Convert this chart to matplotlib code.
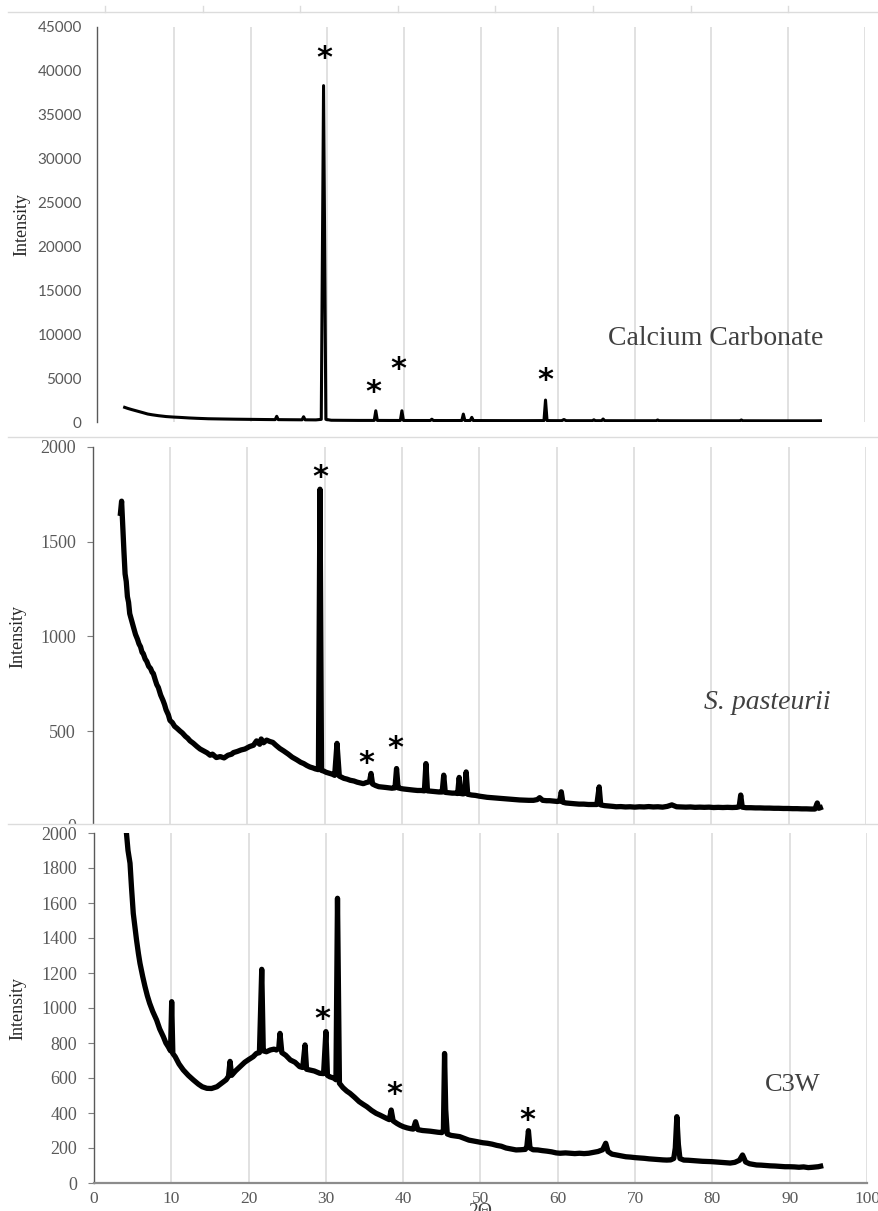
"""
XRD patterns: calcium carbonate, S. pasteurii and C3W, three stacked panels
"""

import matplotlib
matplotlib.use('Agg')
import matplotlib.pyplot as plt
from matplotlib.lines import Line2D
from matplotlib.patches import Rectangle

# Data
# Calcium carbonate
cc_theta = [3.6, 4.0, 4.5, 5.0, 5.5, 6.0, 6.6, 7.2, 8.0, 9.0, 10.0, 10.7, 12.0, 13.0, 14.5,
            16.5, 18.0, 20.0, 22.0, 23.2, 23.4, 23.6, 25.0, 26.7, 26.9, 27.1, 28.5, 29.2,
            29.5, 29.8, 30.5, 32.0, 34.0, 36.1, 36.3, 36.5, 38.0, 39.5, 39.7, 39.9, 41.0,
            43.4, 43.6, 43.8, 45.5, 47.5, 47.7, 47.9, 48.6, 48.8, 49.0, 51.0, 54.0, 56.0,
            58.2, 58.4, 58.6, 60.5, 60.8, 61.1, 63.0, 64.5, 64.7, 64.9, 65.7, 65.9, 66.1,
            69.0, 72.8, 73.0, 73.2, 77.0, 81.0, 83.7, 83.9, 84.1, 88.0, 91.0, 93.5, 94.2]
cc_int = [1670, 1550, 1420, 1300, 1180, 1060, 909, 820, 720, 620, 560, 530, 460, 420, 370,
          340, 320, 300, 280, 270, 650, 270, 260, 250, 600, 250, 240, 300,
          38320, 300, 200, 190, 180, 180, 1280, 180, 175, 175, 1280, 175, 170,
          170, 320, 170, 165, 170, 900, 170, 170, 530, 165, 160, 155, 155,
          160, 2500, 160, 150, 280, 150, 150, 150, 250, 150, 150, 340, 150,
          145, 145, 230, 145, 140, 140, 140, 230, 140, 135, 135, 135, 140]

# S. pasteurii
sp_theta = [3.6, 3.75, 3.9, 4.05, 4.2, 4.35, 4.5, 4.65, 4.8, 5.0, 5.3, 5.55, 5.8, 6.0, 6.2,
            6.4, 6.55, 6.8, 7.0, 7.25, 7.5, 7.7, 7.85, 8.1, 8.3, 8.5, 8.8, 9.1, 9.3, 9.5,
            9.8, 10.0, 10.3, 10.6, 10.9, 11.3, 11.6, 12.0, 12.3, 12.6, 13.0, 13.5, 13.9,
            14.3, 14.8, 15.2, 15.5, 16.0, 16.5, 17.0, 17.5, 18.0, 18.2, 18.7, 19.2, 19.7,
            20.3, 20.8, 21.2, 21.6, 21.8, 22.1, 22.5, 22.9, 23.3, 23.7, 24.2, 24.7, 25.3,
            25.8, 26.4, 26.9, 27.3, 27.7, 28.1, 28.5, 28.8, 29.2, 29.4, 29.6, 29.9, 30.2,
            30.7, 31.0, 31.3, 31.6, 31.9, 32.2, 32.5, 32.9, 33.3, 33.8, 34.2, 34.6, 35.0,
            35.4, 35.8, 36.0, 36.2, 36.6, 37.0, 37.5, 37.9, 38.3, 38.7, 39.1, 39.3, 39.5,
            39.9, 40.2, 40.6, 41.0, 41.5, 42.0, 42.5, 42.9, 43.1, 43.3, 43.8, 44.4, 44.8,
            45.2, 45.4, 45.6, 46.0, 46.5, 46.9, 47.2, 47.4, 47.6, 47.9, 48.1, 48.3, 48.5,
            49.0, 49.5, 50.0, 50.5, 51.0, 51.6, 52.2, 52.8, 53.4, 54.0, 54.6, 55.2, 55.8,
            56.4, 57.0, 57.5, 57.8, 58.2, 58.7, 59.1, 59.6, 60.1, 60.4, 60.6, 60.8, 61.2,
            61.7, 62.3, 62.9, 63.5, 64.1, 64.7, 65.2, 65.5, 65.7, 66.2, 66.8, 67.3, 67.7,
            68.3, 68.9, 69.5, 70.1, 70.7, 71.3, 71.9, 72.5, 73.1, 73.7, 74.3, 74.9, 75.5,
            76.1, 76.7, 77.3, 77.9, 78.5, 79.1, 79.7, 80.3, 80.9, 81.5, 82.1, 82.7, 83.3,
            83.6, 83.8, 84.0, 84.5, 85.1, 85.7, 86.3, 86.9, 87.5, 88.1, 88.7, 89.3, 89.9,
            90.5, 91.1, 91.7, 92.3, 92.9, 93.4, 93.7, 93.9, 94.1]
sp_int = [1650, 1714, 1580, 1450, 1330, 1290, 1210, 1180, 1120, 1090, 1046, 1010, 985, 960, 945,
          915, 909, 880, 868, 842, 830, 810, 804, 770, 745, 730, 690, 662, 640, 612,
          585, 556, 545, 525, 515, 500, 490, 472, 462, 448, 436, 418, 405,
          396, 385, 372, 378, 360, 365, 358, 372, 378, 386, 392, 400, 405,
          418, 425, 448, 430, 458, 438, 452, 445, 440, 425, 408, 395, 378,
          362, 348, 335, 328, 318, 310, 305, 300, 296, 1777, 292, 288, 282,
          276, 272, 266, 435, 262, 256, 250, 246, 240, 236, 230, 226, 222,
          228, 232, 276, 220, 212, 206, 204, 202, 200, 198, 200, 302, 200,
          196, 194, 192, 190, 188, 186, 186, 184, 328, 184, 182, 180, 178,
          178, 267, 176, 174, 172, 172, 170, 255, 170, 168, 170, 284, 166,
          162, 160, 156, 153, 150, 148, 146, 144, 142, 140, 138, 136, 135,
          134, 134, 138, 148, 134, 132, 132, 130, 128, 130, 179, 124, 120,
          118, 116, 114, 114, 112, 112, 112, 205, 110, 106, 104, 102, 100,
          101, 99, 100, 98, 100, 99, 101, 99, 100, 98, 102, 110, 100,
          99, 98, 99, 97, 98, 97, 98, 96, 97, 96, 97, 96, 97,
          100, 162, 98, 95, 95, 94, 94, 93, 93, 92, 92, 91, 91,
          90, 90, 89, 89, 88, 88, 120, 92, 95]

# C3W
c3w_theta = [4.0, 4.2, 4.4, 4.66, 4.85, 5.08, 5.3, 5.5, 5.75, 5.95, 6.3, 6.6, 6.9, 7.2, 7.6,
             8.1, 8.5, 8.97, 9.3, 9.6, 9.9, 10.05, 10.2, 10.5, 11.0, 11.55, 12.2, 12.85,
             13.5, 14.0, 14.6, 15.2, 15.9, 16.5, 17.1, 17.4, 17.6, 17.8, 18.3, 18.9, 19.5,
             20.0, 20.6, 21.0, 21.4, 21.7, 21.9, 22.3, 22.8, 23.3, 23.6, 23.9, 24.06, 24.3,
             24.8, 25.4, 26.0, 26.6, 27.0, 27.3, 27.5, 27.9, 28.5, 29.2, 29.7, 30.0, 30.2,
             30.5, 31.0, 31.3, 31.5, 31.75, 32.2, 32.7, 33.1, 33.7, 34.3, 34.8, 35.3, 35.9,
             36.5, 37.0, 37.4, 37.9, 38.2, 38.45, 38.7, 39.2, 39.6, 40.0, 40.5, 41.0, 41.3,
             41.6, 41.9, 42.5, 43.0, 43.5, 44.0, 44.5, 45.0, 45.2, 45.35, 45.5, 45.7, 46.2,
             46.8, 47.3, 47.9, 48.5, 49.1, 49.7, 50.3, 50.9, 51.5, 52.1, 52.7, 53.3, 53.9,
             54.6, 55.2, 55.8, 56.0, 56.2, 56.4, 56.8, 57.4, 58.0, 58.6, 59.2, 59.8, 60.3,
             61.0, 61.6, 62.2, 62.8, 63.4, 64.0, 64.6, 65.2, 65.8, 66.2, 66.5, 67.0, 67.6,
             68.2, 68.8, 69.4, 70.0, 70.6, 71.2, 71.8, 72.4, 73.0, 73.6, 74.1, 74.6, 75.0,
             75.2, 75.4, 75.6, 75.8, 76.3, 76.9, 77.5, 78.1, 78.7, 79.3, 79.9, 80.5, 81.1,
             81.7, 82.3, 82.9, 83.5, 83.9, 84.3, 84.8, 85.3, 85.7, 86.3, 86.9, 87.5, 88.1,
             88.7, 89.4, 90.0, 90.6, 91.2, 91.8, 92.4, 93.0, 93.4, 93.7, 94.0]
c3w_int = [2150, 1998, 1900, 1827, 1690, 1541, 1460, 1389, 1310, 1255, 1180, 1122, 1070, 1027, 980,
           931, 880, 836, 800, 779, 755, 1036, 740, 722, 680, 646, 615, 589,
           565, 550, 541, 540, 550, 570, 590, 610, 695, 615, 640, 665, 690,
           705, 722, 740, 745, 1221, 755, 750, 760, 765, 760, 770, 855, 745,
           730, 703, 690, 665, 660, 789, 650, 646, 640, 627, 625, 865, 615,
           607, 600, 590, 1627, 570, 545, 525, 513, 490, 465, 450, 436, 415,
           398, 388, 379, 368, 362, 417, 355, 340, 330, 322, 315, 310, 308,
           350, 305, 300, 298, 296, 293, 290, 288, 300, 740, 420, 280, 272,
           268, 265, 255, 245, 240, 235, 230, 227, 222, 215, 210, 200, 195,
           189, 190, 192, 210, 299, 200, 190, 189, 185, 182, 178, 172, 170,
           172, 170, 168, 170, 168, 170, 175, 180, 190, 227, 180, 165, 160,
           155, 150, 148, 145, 143, 141, 138, 136, 134, 132, 131, 132, 140,
           200, 379, 220, 140, 131, 130, 128, 126, 124, 123, 122, 120, 118,
           116, 114, 118, 130, 160, 120, 110, 106, 103, 102, 100, 98, 97,
           95, 93, 93, 92, 90, 92, 88, 90, 92, 93, 96]

# asterisk marks (2theta, intensity)
cc_star_x = [29.6, 36.0, 39.2, 58.4]
cc_star_y = [42370, 4317, 6964, 5646]
sp_star_x = [29.4, 35.4, 39.1]
sp_star_y = [1881, 372, 451]
c3w_star_x = [29.6, 38.9, 56.0]
c3w_star_y = [979, 550, 402]

x_ticks = list(range(0, 101, 10))
cc_yticks = list(range(0, 45001, 5000))
sp_yticks = [0, 500, 1000, 1500, 2000]
c3w_yticks = list(range(0, 2001, 200))

W, H = 879, 1211
serif = 'Liberation Serif'
tick_col = '#595959'
grid_col = '#d9d9d9'


def px_axes(left, right, top, bottom):
    # axes box given in pixel positions of the picture
    return fig.add_axes([left / W, 1 - bottom / H, (right - left) / W, (bottom - top) / H])


def style(ax, yticks, ylim, font, size, ticklen):
    ax.set_xlim(0, 100)
    ax.set_ylim(*ylim)
    ax.set_xticks(x_ticks)
    ax.set_yticks(yticks)
    ax.grid(axis='x', color=grid_col, lw=1.1)
    ax.set_axisbelow(True)
    for s in ['top', 'right', 'bottom']:
        ax.spines[s].set_visible(False)
    ax.spines['left'].set_color('#595959')
    ax.spines['left'].set_linewidth(1.0)
    ax.tick_params(axis='x', length=0, labelbottom=False)
    ax.tick_params(axis='y', length=ticklen, width=0.8, color='#7f7f7f',
                   pad=(11 if ticklen == 0 else 8), labelcolor=tick_col, labelsize=size)
    for lab in ax.get_yticklabels():
        lab.set_fontfamily(font)


def stars(ax, xs, ys):
    for x, y in zip(xs, ys):
        ax.annotate('*', (x, y), xytext=(0, -12), textcoords='offset points',
                    ha='center', va='baseline', fontsize=22, fontweight='bold',
                    family='DejaVu Sans', color='black')


fig = plt.figure(figsize=(W / 100, H / 100), dpi=100)

# Panel 1 - calcium carbonate
ax1 = px_axes(97, 865, 27, 422)
ax1.plot(cc_theta, cc_int, color='black', lw=2.2, solid_joinstyle='round')
style(ax1, cc_yticks, (0, 45000), 'Lato', 11, 0)
stars(ax1, cc_star_x, cc_star_y)
ax1.text(80.6, 9530, 'Calcium Carbonate', family=serif, fontsize=20,
         color='#404040', ha='center', va='center')

# Panel 2 - S. pasteurii
ax2 = px_axes(92.6, 866, 447, 825.7)
ax2.plot(sp_theta, sp_int, color='black', lw=3.8, solid_joinstyle='round')
style(ax2, sp_yticks, (0, 2000), serif, 13, 4)
stars(ax2, sp_star_x, sp_star_y)
ax2.text(87.3, 653, 'S. pasteurii', family=serif, style='italic', fontsize=20,
         color='#404040', ha='center', va='center')

# Panel 3 - C3W (drawn above the white strip that hides the foot of panel 2)
ax3 = px_axes(94, 867, 833, 1183)
ax3.set_zorder(6)
ax3.plot(c3w_theta, c3w_int, color='black', lw=3.8, solid_joinstyle='round')
style(ax3, c3w_yticks, (0, 2000), serif, 13, 4)
ax3.spines['bottom'].set_visible(True)
ax3.spines['bottom'].set_color('#8c8c8c')
ax3.spines['bottom'].set_linewidth(1.6)
ax3.tick_params(axis='x', length=0, labelbottom=True, labelsize=12.5,
                labelcolor=tick_col, pad=6)
for lab in ax3.get_xticklabels():
    lab.set_fontfamily(serif)
stars(ax3, c3w_star_x, c3w_star_y)
ax3.text(90.4, 560, 'C3W', family=serif, fontsize=19, color='#404040',
         ha='center', va='center')
fig.text(480 / W, 1 - 1203 / H, '2\u0398', family=serif, fontsize=14,
         color='#404040', ha='center', va='top')

# y labels
for yc, xc in [(224, 22), (637, 18), (1008, 18)]:
    fig.text(xc / W, 1 - yc / H, 'Intensity', family=serif, fontsize=13,
             color='#262626', rotation=90, ha='center', va='center')

# chart borders between the stacked pictures
fig.patches.append(Rectangle((0, 1 - 833 / H), 1, 9 / H, transform=fig.transFigure,
                             facecolor='white', edgecolor='none', zorder=5))
for yb in [12, 437, 824]:
    fig.lines.append(Line2D([8 / W, 1], [1 - yb / H] * 2, transform=fig.transFigure,
                            color='#dcdcdc', lw=1.0, zorder=5.5))
for k in range(9):
    xt = (105 + 97.6 * k) / W
    fig.lines.append(Line2D([xt, xt], [1 - 12 / H, 1 - 6 / H], transform=fig.transFigure,
                            color='#dcdcdc', lw=1.0, zorder=5.5))

plt.savefig('out.png', dpi=100)
